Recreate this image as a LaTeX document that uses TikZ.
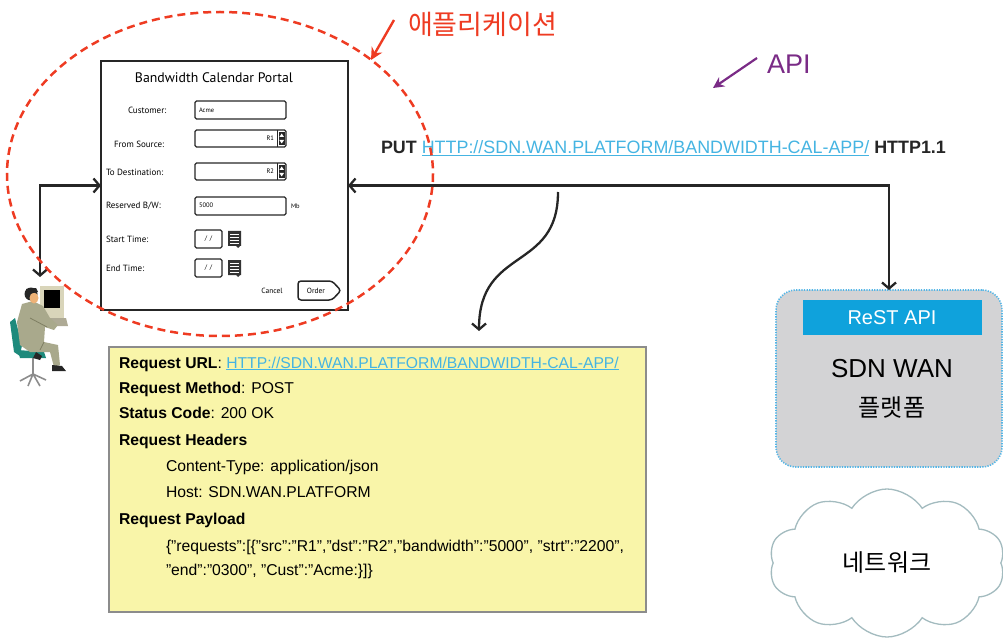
\documentclass[tikz,border=0pt]{standalone}
\usepackage{fontspec}
\setmainfont{Liberation Sans}
\newfontfamily\kofont{Noto Sans CJK KR}
\newfontfamily\formfont{PT Sans}
\usetikzlibrary{arrows.meta,shapes.geometric,shapes.symbols,calc}

\definecolor{appred}{HTML}{EE3B22}
\definecolor{apipurple}{HTML}{7A2B86}
\definecolor{linkblue}{HTML}{45B4E2}
\definecolor{reqyellow}{HTML}{F9F5A9}
\definecolor{reqedge}{HTML}{8C8C8C}
\definecolor{sdngray}{HTML}{D3D3D5}
\definecolor{sdnedge}{HTML}{56B6E6}
\definecolor{restblue}{HTML}{0FA2DC}
\definecolor{cloudedge}{HTML}{A3BBBF}
\definecolor{suit}{HTML}{A9A98C}
\definecolor{suitdark}{HTML}{7E7E62}
\definecolor{chair}{HTML}{1E8A7C}
\definecolor{monitor}{HTML}{D9D5BA}

\newcommand{\setfs}[1]{\fontsize{#1}{#1}\selectfont}
\newcommand{\weblink}[1]{\textcolor{linkblue}{\underline{#1}}}

\begin{document}
\begin{tikzpicture}[x=1pt,y=-1pt,
  every node/.style={inner sep=0pt, outer sep=0pt},
  >={Straight Barb[length=6pt,width=14pt]},
  conn/.style={line width=2.3pt, draw=black!85},
  field/.style={draw=black!85, line width=1.3pt, rounded corners=1.5pt},
  flabel/.style={anchor=west, font=\formfont\setfs{9}},
  fvalue/.style={font=\formfont\setfs{6.5}},
  reqline/.style={anchor=base west, font=\setfs{15.7}},
  calicon/.style={fill=black!80},
]
\useasboundingbox (0,0) rectangle (1003,644);

% ---------- portal form ----------
\node[draw=black!85, line width=1.5pt, minimum width=247, minimum height=249,
      anchor=north west] (form) at (101,61) {};
\node (ftitle) at (214,78) {\formfont\setfs{13.8}Bandwidth Calendar Portal};

\node[flabel] (lcust) at (128,110) {Customer:};
\node[flabel] (lsrc)  at (114,144) {From Source:};
\node[flabel] (ldst)  at (106,172) {To Destination:};
\node[flabel] (lbw)   at (106,206) {Reserved B/W:};
\node[flabel] (lst)   at (106,239) {Start Time:};
\node[flabel] (let)   at (106,268) {End Time:};

% text inputs
\draw[field] (195,101) rectangle (286,119);
\node[fvalue, anchor=west] (vcust) at (199,110) {Acme};
\draw[field] (195,130) rectangle (286,147);
\node[fvalue, anchor=east] (vsrc) at (274,138.5) {R1};
\draw[field] (195,163) rectangle (286,180);
\node[fvalue, anchor=east] (vdst) at (274,171.5) {R2};
\draw[field] (195,197) rectangle (286,215);
\node[fvalue, anchor=west] (vbw) at (199,205) {5000};
\node[fvalue, anchor=west] (vmb) at (291,206) {Mb};

% spinners
\foreach \yy in {130,163}{
  \draw[line width=0.9pt, black!85] (277,\yy) -- (277,\yy+17);
  \fill[black!85] (278.5,\yy+2) rectangle (285,\yy+15);
  \fill[white] (281.7,\yy+3.5) -- (284,\yy+7) -- (279.4,\yy+7) -- cycle;
  \fill[white] (281.7,\yy+13.5) -- (284,\yy+10) -- (279.4,\yy+10) -- cycle;
}

% date inputs with calendar icons
\foreach \yy/\nm in {230/vstart,259/vend}{
  \draw[field] (195,\yy) rectangle (222,\yy+18);
  \node[fvalue] (\nm) at (208.5,\yy+9) {/ \,/};
  \fill[calicon] (228,\yy+1) rectangle (241,\yy+16) -- (236,\yy+16) -- (238,\yy+18) -- (240,\yy+16);
  \foreach \ll in {4,7,10,13}
    \draw[white, line width=0.7pt] (230,\yy+\ll) -- (239,\yy+\ll);
}

\node[fvalue] (cancel) at (272,291) {\setfs{7.5}Cancel};
\draw[field, line width=1.5pt, rounded corners=3pt]
  (298,281) -- (332,281) -- (341,290.5) -- (332,300) -- (298,300) -- cycle;
\node[fvalue] (order) at (316,290.5) {\setfs{7.5}Order};

% ---------- application zone (outline drawn last) ----------
\node[ellipse, minimum width=426, minimum height=324] (appzone) at (220,174) {};
\node[text=appred, font=\kofont\setfs{27}, anchor=west] (applabel) at (408,24) {애플리케이션};
\coordinate (apptail) at (394,20);
\coordinate (apphead) at (371,60);
\draw[appred, line width=2.4pt, -{Stealth[length=12pt,width=12pt]}] (apptail) -- (apphead);

% ---------- API label ----------
\node[text=apipurple, font=\setfs{27}, anchor=west] (apilabel) at (767,64) {API};
\coordinate (apitail) at (757,58);
\coordinate (apihead) at (713,88);
\draw[apipurple, line width=2.2pt, -{Stealth[length=11pt,width=11pt]}] (apitail) -- (apihead);

% ---------- PUT request line ----------
\node[anchor=base west, font=\setfs{17.9}, text=black!85] (putline) at (381,153.5)
  {\textbf{PUT} \weblink{HTTP://SDN.WAN.PLATFORM/BANDWIDTH-CAL-APP/} \textbf{HTTP1.1}};

% ---------- SDN WAN platform ----------
\node[fill=sdngray, draw=sdnedge, line width=1.6pt, dash pattern=on 1.3pt off 1.3pt,
      rounded corners=20pt, minimum width=226, minimum height=177] (sdn) at (889,378.5) {};
\node[fill=restblue, minimum width=179, minimum height=35, text=white,
      font=\setfs{20}] (rest) at (892,317.5) {ReST API};
\node[font=\setfs{26}] (sdnname) at (892,369) {SDN WAN};
\node[font=\kofont\setfs{24}] (sdnko) at (892,407) {플랫폼};

% ---------- network cloud ----------
\node[cloud, cloud puffs=10, cloud puff arc=115, aspect=1.6, draw=cloudedge,
      line width=1.3pt, fill=white, minimum width=236, minimum height=148,
      font=\kofont\setfs{24}] (net) at (887,563) {네트워크};

% ---------- request detail box ----------
\node[fill=reqyellow, draw=reqedge, line width=1.3pt, minimum width=537, minimum height=265,
      anchor=north west] (req) at (109,347) {};
\node[reqline] (r1) at (119,368) {\textbf{Request URL}: \weblink{HTTP://SDN.WAN.PLATFORM/BANDWIDTH-CAL-APP/}};
\node[reqline] (r2) at (119,393) {\textbf{Request Method}: POST};
\node[reqline] (r3) at (119,418) {\textbf{Status Code}: 200 OK};
\node[reqline] (r4) at (119,445) {\textbf{Request Headers}};
\node[reqline] (r5) at (166,471) {Content-Type: application/json};
\node[reqline] (r6) at (166,497) {Host: SDN.WAN.PLATFORM};
\node[reqline] (r7) at (119,524) {\textbf{Request Payload}};
\node[reqline] (r8) at (166,551) {\{"requests":[\{"src":"R1","dst":"R2","bandwidth":"5000", "strt":"2200",};
\node[reqline] (r9) at (166,575) {"end":"0300", "Cust":"Acme:\}]\}};

% ---------- user at workstation ----------
% chair
\fill[chair] (10,322) -- (15,318) -- (22,345) -- (20,356) -- (14,352) -- cycle;
\fill[chair] (18,350) -- (44,352) -- (46,358) -- (20,358) -- cycle;
\draw[black!45, line width=2pt] (33,358) -- (33,374);
\draw[black!45, line width=1.6pt] (33,374) -- (20,381) (33,374) -- (46,380) (33,374) -- (28,386) (33,374) -- (40,386);
% monitor and keyboard
\fill[monitor] (40,286) rectangle (64,318);
\fill[black] (44,290) rectangle (60,308);
\fill[monitor!80!black] (40,318) -- (66,318) -- (68,326) -- (42,326) -- cycle;
% body
\fill[suit] (22,304) -- (33,301) -- (43,306) -- (50,318) -- (58,325) -- (54,330)
  -- (45,327) -- (44,342) -- (58,345) -- (60,365) -- (54,367) -- (50,352)
  -- (30,352) -- (20,345) -- (17,322) -- cycle;
\draw[suitdark, line width=0.8pt] (30,318) -- (47,327) (44,342) -- (40,350);
% feet
\fill[black!85] (52,365) -- (62,366) -- (66,371) -- (52,371) -- cycle;
\fill[black!85] (36,352) -- (42,356) -- (40,360) -- (33,358) -- cycle;
% head
\fill[black!85] (31,294) circle (6.5);
\fill[orange!55!brown!60] (34,298) ellipse [x radius=4.5, y radius=5.5];
\fill[black!85] (26,289) -- (36,288) -- (38,292) -- (28,294) -- cycle;
\coordinate (usertop) at (40,277);

% ---------- connectors ----------
\draw[conn,<->] (form.west) -| (usertop);
\draw[conn,<->] (form.east) -| (sdn.north);
\coordinate (tap) at (558,192);
\coordinate (reqin) at (479,331);
\draw[conn,->] (tap) .. controls (558,272) and (479,246) .. (reqin);

% dashed outline of the application zone, on top of the form and connectors
\draw[appred, line width=2.5pt, dash pattern=on 8pt off 5pt] (appzone.center) ellipse [x radius=213, y radius=162];
\end{tikzpicture}
\end{document}
